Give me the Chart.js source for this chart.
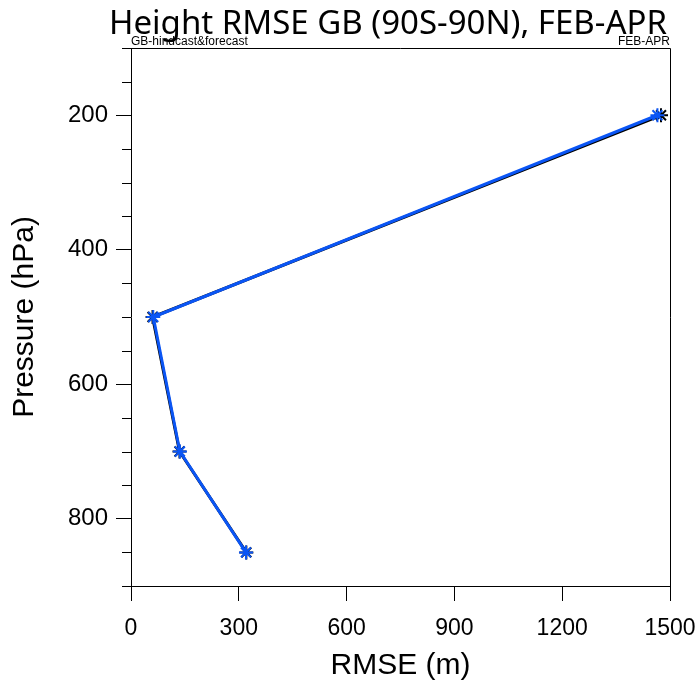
<!DOCTYPE html>
<html>
<head>
<meta charset="utf-8">
<script src="https://cdn.jsdelivr.net/npm/chart.js@4/dist/chart.umd.min.js"></script>
<style>
    html, body { margin: 0; padding: 0; background: #fff; }
    #wrap { width: 698px; height: 684px; position: relative; }
</style>
</head>
<body>
<div id="wrap"><canvas id="myChart"></canvas></div>
<script>
// pressure levels (hPa) and RMSE (m)
const levels = [200, 500, 700, 850];
const rmse_hindcast = [1475, 60, 135, 321];
const rmse_forecast = [1465, 62, 136, 320];
const y_major = [200, 400, 600, 800];

const title_text = "Height RMSE GB (90S-90N), FEB-APR";
const left_note = "GB-hindcast&forecast";
const right_note = "FEB-APR";

function to_points(xs) {
    return levels.map((p, i) => ({ x: xs[i], y: p }));
}

// frame, minor ticks and the title texts
const extras = {
    id: "extras",
    afterDraw(chart) {
        const ctx = chart.ctx;
        const a = chart.chartArea;
        const y = chart.scales.y;
        ctx.save();
        ctx.strokeStyle = "#000";
        ctx.lineWidth = 1;
        ctx.beginPath();
        ctx.moveTo(a.left, a.top + 0.5);
        ctx.lineTo(a.right + 0.5, a.top + 0.5);
        ctx.lineTo(a.right + 0.5, a.bottom);
        ctx.stroke();

        // minor ticks every 50 hPa
        for (let p = 100; p <= 900; p += 50) {
            if (y_major.includes(p)) continue;
            const py = Math.round(y.getPixelForValue(p)) + 0.5;
            ctx.beginPath();
            ctx.moveTo(a.left - 9, py);
            ctx.lineTo(a.left, py);
            ctx.stroke();
        }

        ctx.fillStyle = "#000";
        ctx.textBaseline = "alphabetic";
        ctx.font = "12px 'Liberation Sans'";
        ctx.textAlign = "left";
        ctx.fillText(left_note, a.left, a.top - 3);
        ctx.textAlign = "right";
        ctx.fillText(right_note, a.right, a.top - 3);

        ctx.font = "33px 'Noto Sans'";
        ctx.textAlign = "center";
        ctx.fillText(title_text, 388, 34);
        ctx.restore();
    },
};

new Chart(document.getElementById("myChart"), {
    type: "line",
    data: {
        datasets: [
            {
                label: "hindcast",
                data: to_points(rmse_hindcast),
                borderColor: "#000000",
                backgroundColor: "#000000",
                borderWidth: 3,
                pointStyle: "star",
                pointRadius: 7,
                pointBorderWidth: 2,
                tension: 0,
                order: 2,
            },
            {
                label: "forecast",
                data: to_points(rmse_forecast),
                borderColor: "#0a55f5",
                backgroundColor: "#0a55f5",
                borderWidth: 3,
                pointStyle: "star",
                pointRadius: 7,
                pointBorderWidth: 2,
                tension: 0,
                order: 1,
            },
        ],
    },
    options: {
        responsive: true,
        maintainAspectRatio: false,
        animation: false,
        layout: {
            autoPadding: false,
            padding: { top: 48, right: 28, left: 0, bottom: 0 },
        },
        plugins: {
            legend: { display: false },
            tooltip: { enabled: false },
        },
        scales: {
            x: {
                type: "linear",
                min: 0,
                max: 1500,
                afterFit: (s) => {
                    s.height = 98;
                    s.paddingLeft = 0;
                    s.paddingRight = 0;
                },
                ticks: {
                    stepSize: 300,
                    autoSkip: false,
                    maxRotation: 0,
                    color: "#000",
                    padding: 14,
                    callback: (v) => String(v),
                    font: { family: "'Liberation Sans'", size: 23 },
                },
                grid: {
                    drawOnChartArea: false,
                    tickLength: 15,
                    color: "#000",
                },
                border: { color: "#000", width: 1 },
                title: {
                    display: true,
                    text: "RMSE (m)",
                    color: "#000",
                    padding: { top: 1, bottom: 0 },
                    font: { family: "'Liberation Sans'", size: 30 },
                },
            },
            y: {
                type: "linear",
                reverse: true,
                min: 100,
                max: 900,
                afterFit: (s) => {
                    s.width = 131;
                    s.paddingTop = 0;
                    s.paddingBottom = 0;
                },
                afterBuildTicks: (s) => {
                    s.ticks = y_major.map((v) => ({ value: v }));
                },
                ticks: {
                    autoSkip: false,
                    color: "#000",
                    padding: 8,
                    callback: (v) => String(v),
                    font: { family: "'Liberation Sans'", size: 24 },
                },
                grid: {
                    drawOnChartArea: false,
                    tickLength: 15,
                    color: "#000",
                },
                border: { color: "#000", width: 1 },
                title: {
                    display: true,
                    text: "Pressure (hPa)",
                    color: "#000",
                    padding: { top: 7, bottom: 0 },
                    font: { family: "'Liberation Sans'", size: 30 },
                },
            },
        },
    },
    plugins: [extras],
});
</script>
</body>
</html>
